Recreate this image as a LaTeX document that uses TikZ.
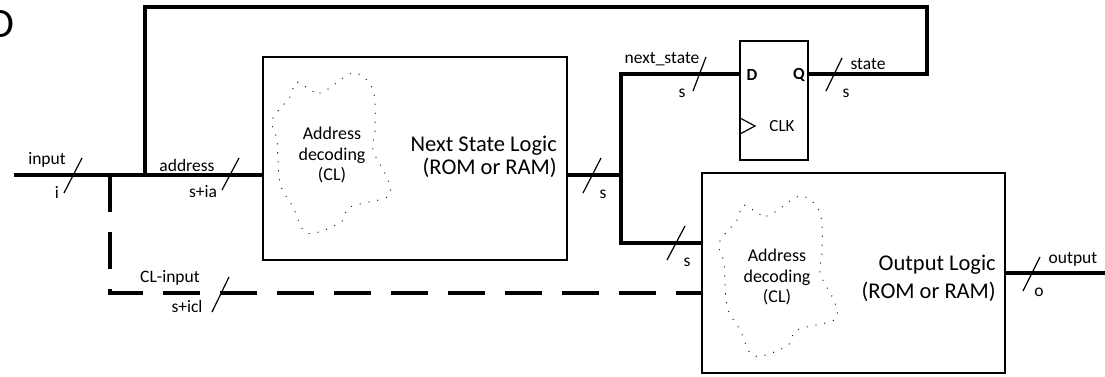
\documentclass[tikz,border=0pt]{standalone}
\usepackage{fontspec}
\setmainfont{Carlito}
\usetikzlibrary{positioning}

\tikzset{
	wire/.style = {line width=4pt},
	dashwire/.style = {line width=4pt, dash pattern=on 37pt off 20pt},
	logicbox/.style = {draw, line width=1.3pt, inner sep=0pt, outer sep=0pt},
	busslash/.style = {line width=1.2pt},
	buslabel/.style = {font=\fontsize{17.5}{20}\selectfont, inner sep=0pt},
	bigtext/.style = {font=\fontsize{22.5}{22.5}\selectfont, align=right, inner sep=0pt},
	cloudtext/.style = {font=\fontsize{18}{20.5}\selectfont, align=center, inner sep=0pt},
	pin/.style = {font=\fontsize{17}{20}\selectfont\bfseries, inner sep=0pt},
	cloud/.pic = {
		\draw[line width=1.3pt, line cap=round, dash pattern=on 0pt off 9pt]
			plot[smooth cycle, tension=0.55] coordinates {
				(-33,-68) (-10,-57) (23,-77) (43,-60) (45,-20) (43,0)
				(58,30) (57,47) (20,57) (10,73) (-23,83) (-37,57)
				(-50,33) (-53,-10) (-58,-30) (-40,-53)};
	}
}

\begin{document}
\begin{tikzpicture}[x=1pt,y=-1pt]
	\useasboundingbox (0,0) rectangle (1105,376);
	\node[anchor=east, font=\fontsize{42}{42}\selectfont, inner sep=0pt] (title) at (15,24) {D};

	% blocks
	\node[logicbox, minimum width=304pt, minimum height=203pt] (nsl) at (415,158.5) {};
	\node[logicbox, minimum width=68pt, minimum height=119pt] (ff) at (774,100.5) {};
	\node[logicbox, minimum width=303pt, minimum height=200pt] (ol) at (853.5,273) {};

	\pic at (330,150) {cloud};
	\node[cloudtext] (nsldec) at (332,155) {Address\\decoding\\(CL)};
	\node[bigtext, anchor=east] (nsltxt) at (557,157) {Next State Logic\\(ROM or RAM)};

	\pic at (777,273) {cloud};
	\node[cloudtext] (oldec) at (777,277) {Address\\decoding\\(CL)};
	\node[bigtext, anchor=east, font=\fontsize{22.5}{28}\selectfont] (oltxt) at (996,278) {Output Logic\\(ROM or RAM)};

	% flip-flop
	\node[pin] (dlab) at (752,75) {D};
	\node[pin] (qlab) at (799,75) {Q};
	\node[buslabel, font=\fontsize{17}{20}\selectfont] (clk) at (782,126) {CLK};
	\draw[line width=1.2pt] (740,118) -- (755,126) -- (740,134);

	% wires
	\coordinate (in) at (14,175);
	\coordinate (jcl) at (110,175);
	\coordinate (jfb) at (145,175);
	\coordinate (ns) at (621,175);
	\coordinate (dpin) at (740,74);
	\coordinate (qpin) at (808,74);
	\coordinate (olin) at (702,243);
	\coordinate (clin) at (702,293);
	\coordinate (out) at (1105,273);

	\draw[wire] (in) -- (in -| nsl.west);
	\draw[wire] (jfb) -- (145,7) -| (927,74) -- (qpin);
	\draw[wire] (nsl.east |- ns) -- (ns);
	\draw[wire] (dpin) -| (ns) |- (olin);
	\draw[wire] (ol.east) -- (out);
	\draw[dashwire] (jcl) |- (clin);

	% bus widths
	\draw[busslash] (64,193) -- (82,158);
	\node[buslabel] (inlab) at (47,160) {input};
	\node[buslabel] (iw) at (57,192) {i};

	\draw[busslash] (222,190) -- (239,158);
	\node[buslabel] (addrlab) at (187,165) {address};
	\node[buslabel] (addrw) at (203,192) {s+ia};

	\draw[busslash] (583,193) -- (601,158);
	\node[buslabel] (nsw) at (603,194) {s};

	\draw[busslash] (693,91) -- (706,57);
	\node[buslabel] (nslab) at (662,59) {next\_state};
	\node[buslabel] (nsw2) at (682,93) {s};

	\draw[busslash] (826,91) -- (842,58);
	\node[buslabel] (stlab) at (868,64) {state};
	\node[buslabel] (stw) at (846,93) {s};

	\draw[busslash] (667,260) -- (685,226);
	\node[buslabel] (olw) at (687,262) {s};

	\draw[busslash] (212,312) -- (229,277);
	\node[buslabel] (cllab) at (170,278) {CL-input};
	\node[buslabel] (clw) at (187,306) {s+icl};

	\draw[busslash] (1023,291) -- (1040,257);
	\node[buslabel] (outlab) at (1073,259) {output};
	\node[buslabel] (outw) at (1039,292) {o};
\end{tikzpicture}
\end{document}
